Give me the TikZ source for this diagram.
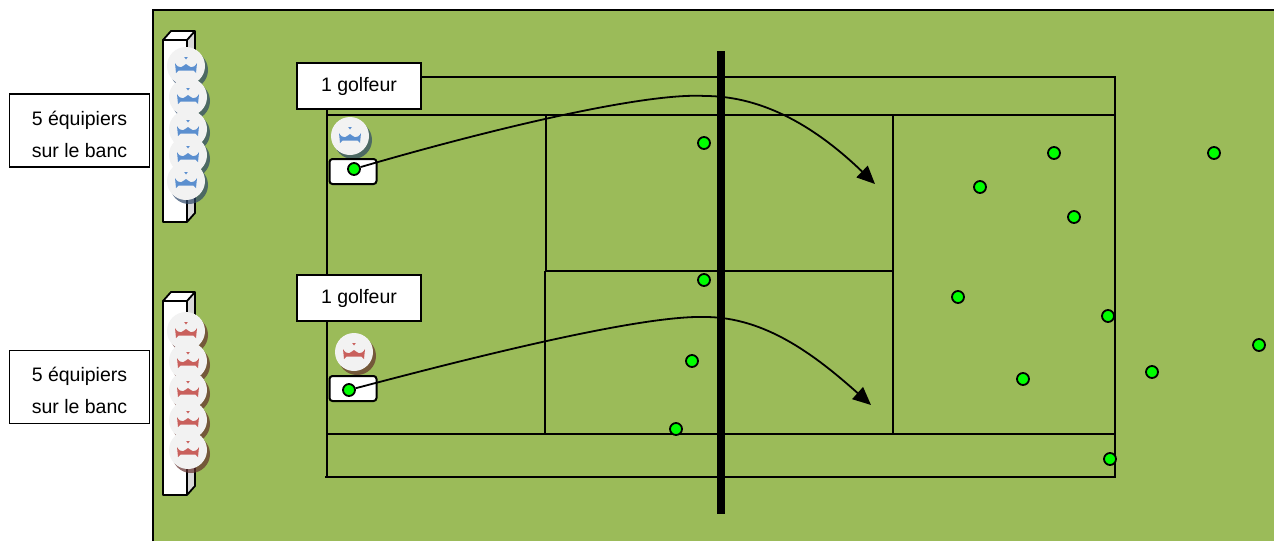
\documentclass[tikz,border=0pt]{standalone}
\usepackage{fontspec}
\setmainfont{Liberation Sans}
\usetikzlibrary{arrows.meta}
\definecolor{grass}{HTML}{9BBB59}
\definecolor{tokenface}{HTML}{F2F2F2}
\definecolor{blueteam}{HTML}{5B8FCF}
\definecolor{redteam}{HTML}{C9605C}
\definecolor{ballgreen}{HTML}{00FF00}
\tikzset{
  x=1pt,y=-1pt,
  courtline/.style={draw=black,line width=1.8pt},
  labelbox/.style={draw=black,fill=white,line width=2pt,minimum width=124pt,minimum height=46pt,inner sep=0pt,font=\fontsize{19.5pt}{32pt}\selectfont,align=center},
  benchlabel/.style={draw=black,fill=white,line width=1.8pt,minimum width=140pt,minimum height=73pt,inner sep=0pt,font=\fontsize{19.5pt}{32pt}\selectfont,align=center},
  tee/.style={draw=black,fill=white,rounded corners=3pt,line width=2pt,minimum width=47pt,minimum height=25pt,inner sep=0pt},
  ball/.style={circle,draw=black,fill=ballgreen,line width=1.8pt,minimum size=12pt,inner sep=0pt},
  shot/.style={draw=black,line width=1.8pt,-{Triangle[length=18pt,width=16pt]}},
  token/.pic={
    \fill[black!50!#1,opacity=.7] (3,4) circle (19);
    \fill[tokenface] (0,0) circle (19);
    \fill[#1] (-1.8,-9) -- (1.8,-9) -- (0,-6.5) -- cycle;
    \fill[#1] (-11,-3) .. controls (-9.5,0) and (-7.5,1.5) .. (-5,1.2) .. controls (-2.5,1) and (-2,-1.5) .. (0,-2) .. controls (2,-1.5) and (2.5,1) .. (5,1.2) .. controls (7.5,1.5) and (9.5,0) .. (11,-3) -- (10,7) -- (7.5,4.5) -- (-7.5,4.5) -- (-10,7) -- cycle;
  }
}
\begin{document}
\begin{tikzpicture}
\useasboundingbox (0,0) rectangle (1274,541);
\fill[white] (0,0) rectangle (1274,541);
\fill[grass] (153,10) rectangle (1274,541);
\draw[black,line width=2.2pt] (153,541) -- (153,10) -- (1274,10);
% court
\draw[courtline] (325,477) -- (1115,477) -- (1115,77) -- (327,77) -- (327,477);
\draw[courtline] (327,115) -- (1115,115);
\draw[courtline] (327,434) -- (1115,434);
\draw[courtline] (546,115) -- (546,271);
\draw[courtline] (545,271) -- (545,434);
\draw[courtline] (545,271) -- (893,271);
\draw[courtline] (893,115) -- (893,434);
\draw[black,line width=8pt] (721,51) -- (721,514);
% benches
\foreach \y/\h in {40/182,301/194}{
  \fill[white] (163,\y) rectangle (187,\y+\h);
  \fill[black!15] (187,\y) -- (195,\y-9) -- (195,\y+\h-9) -- (187,\y+\h) -- cycle;
  \fill[white] (163,\y) -- (171,\y-9) -- (195,\y-9) -- (187,\y) -- cycle;
  \draw[black,line width=1.8pt,line join=round] (163,\y) rectangle (187,\y+\h);
  \draw[black,line width=1.8pt,line join=round] (163,\y) -- (171,\y-9) -- (195,\y-9) -- (195,\y+\h-9) -- (187,\y+\h) (195,\y-9) -- (187,\y);
}
% tokens
\pic at (186,66) {token=blueteam};
\pic at (188,97) {token=blueteam};
\pic at (188,129) {token=blueteam};
\pic at (188,155) {token=blueteam};
\pic at (186,181) {token=blueteam};
\pic at (186,331) {token=redteam};
\pic at (188,361) {token=redteam};
\pic at (188,390) {token=redteam};
\pic at (188,420) {token=redteam};
\pic at (188,450) {token=redteam};
\pic at (350,136) {token=blueteam};
\pic at (354,352) {token=redteam};
% labels
\node[benchlabel] (bench1) at (79.5,130.5) {\rule{0pt}{22pt}5 équipiers\\sur le banc};
\node[benchlabel] (bench2) at (79.5,387) {\rule{0pt}{22pt}5 équipiers\\sur le banc};
\node[labelbox] (golf1) at (359,86) {\rule[-3pt]{0pt}{19pt}1 golfeur};
\node[labelbox] (golf2) at (359,298) {\rule[-3pt]{0pt}{19pt}1 golfeur};
\node[tee] (tee1) at (353,171.5) {};
\node[tee] (tee2) at (353,388.5) {};
\node[ball] (start1) at (354,169) {};
\node[ball] (start2) at (349,390) {};
\coordinate (end1) at (875,184);
\coordinate (end2) at (871,405);
\draw[shot] (start1) .. controls (470,135) and (640,92) .. (705,96) .. controls (765,96) and (818,129) .. (end1);
\draw[shot] (start2) .. controls (470,358) and (640,315) .. (705,317) .. controls (765,317) and (815,355) .. (end2);
% balls
\foreach \n/\p in {a/{704,143},b/{704,280},c/{692,361},d/{676,429},e/{980,187},f/{1054,153},g/{1074,217},h/{1214,153},i/{958,297},j/{1108,316},k/{1259,345},l/{1152,372},m/{1023,379},o/{1110,459}}{
  \node[ball] (ball\n) at (\p) {};
}
\end{tikzpicture}
\end{document}
